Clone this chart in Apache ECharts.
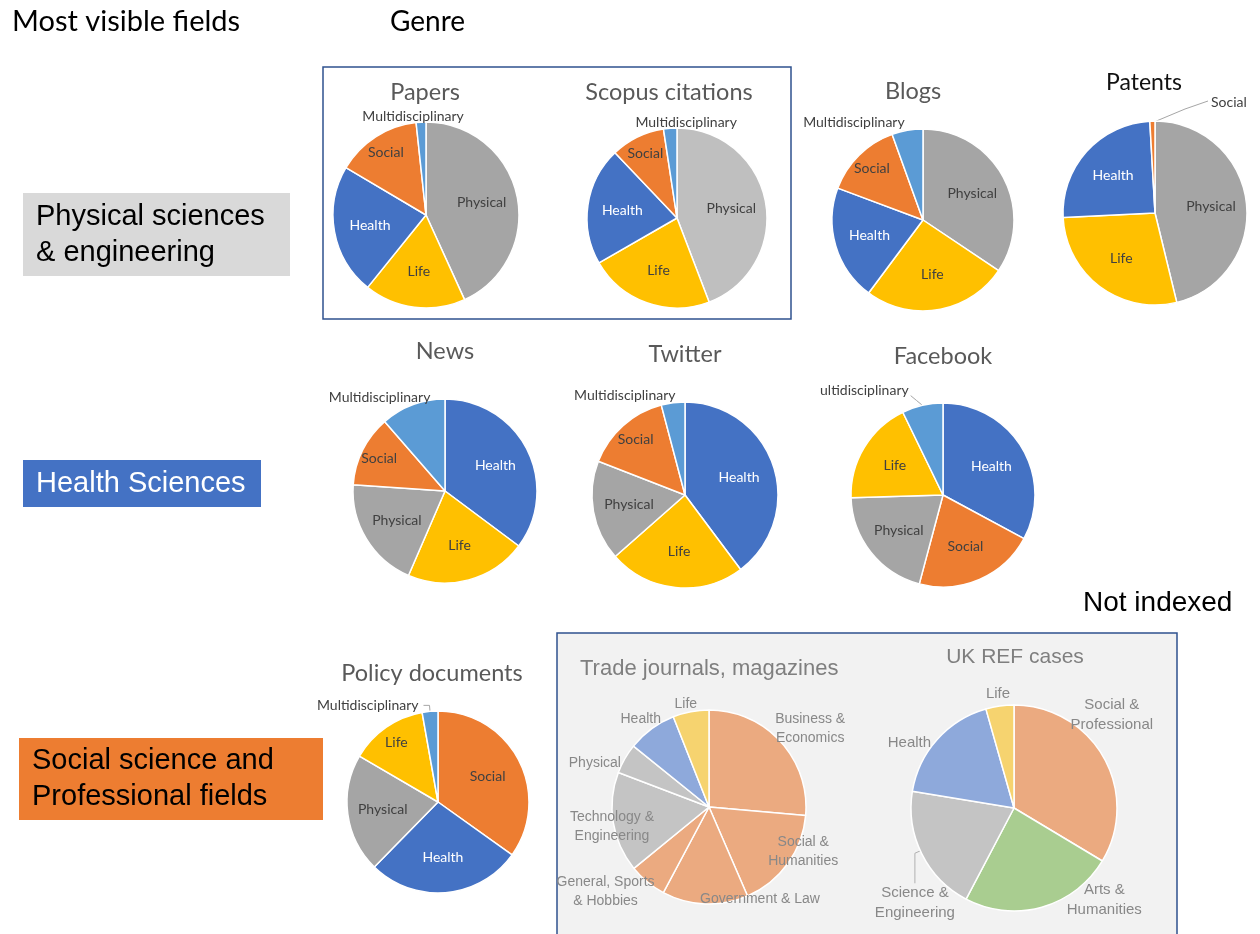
<!DOCTYPE html>
<html>
<head>
<meta charset="utf-8">
<title>Most visible fields by genre</title>
<script src="https://cdn.jsdelivr.net/npm/echarts@6/dist/echarts.min.js"></script>
<style>
html, body { margin: 0; padding: 0; background: #fff; }
#chart { width: 1260px; height: 934px; }
</style>
</head>
<body>
<div id="chart"></div>
<script>
// shares (%) per genre, clockwise from 12 o'clock
const papersNames = ['Physical', 'Life', 'Health', 'Social', 'Multidisciplinary']
const papersValues = [43.2, 17.6, 22.7, 14.8, 1.7]
const scopusNames = ['Physical', 'Life', 'Health', 'Social', 'Multidisciplinary']
const scopusValues = [44.2, 22.5, 21.2, 9.7, 2.4]
const blogsNames = ['Physical', 'Life', 'Health', 'Social', 'Multidisciplinary']
const blogsValues = [34.4, 25.8, 20.5, 13.8, 5.5]
const patentsNames = ['Physical', 'Life', 'Health', 'Social']
const patentsValues = [46.2, 28.0, 24.9, 0.9]
const newsNames = ['Health', 'Life', 'Physical', 'Social', 'Multidisciplinary']
const newsValues = [35.2, 21.3, 19.6, 12.5, 11.4]
const twitterNames = ['Health', 'Life', 'Physical', 'Social', 'Multidisciplinary']
const twitterValues = [39.8, 23.7, 17.4, 15.0, 4.1]
const facebookNames = ['Health', 'Social', 'Physical', 'Life', 'Multidisciplinary']
const facebookValues = [32.9, 21.3, 20.4, 18.3, 7.2]
const policyNames = ['Social', 'Health', 'Physical', 'Life', 'Multidisciplinary']
const policyValues = [34.9, 27.5, 21.1, 13.8, 2.8]
const tradeNames = ['Business &\nEconomics', 'Social &\nHumanities', 'Government & Law', 'General, Sports\n& Hobbies', 'Technology &\nEngineering', 'Physical', 'Health', 'Life']
const tradeValues = [26.4, 17.1, 14.3, 6.3, 16.7, 5.0, 8.2, 6.0]
const refNames = ['Social &\nProfessional', 'Arts &\nHumanities', 'Science &\nEngineering', 'Health', 'Life']
const refValues = [33.6, 24.1, 19.9, 18.0, 4.4]

const fieldColors = {
  Physical: '#A5A5A5',
  Life: '#FFC000',
  Health: '#4472C4',
  Social: '#ED7D31',
  Multidisciplinary: '#5B9BD5'
}
const tradeColors = ['#EBAA80', '#EBAA80', '#EBAA80', '#EBAA80', '#C4C4C4', '#C4C4C4', '#8EA9DB', '#F6D36F']
const refColors = ['#EBAA80', '#A9CD90', '#C4C4C4', '#8EA9DB', '#F6D36F']

// label nudges for the two faded pies (Excel "best fit" placement)
const tradeShift = [[10, 5], [-6, -28], [56, -31], [-25, -11], [25, 0], [-7, 18], [5, 12], [0, 19]]
const refShift = [[-16, -29], [55, -34], [18, 37], [-7, 22], [2, 15]]

const FONT = 'Lato, "Noto Sans", sans-serif'
const ARIAL = '"Liberation Sans", Arial, sans-serif'

const fieldPie = (names, values, cx, cy, r, opts = {}) => {
  const outside = opts.outside || ['Multidisciplinary']
  const colors = opts.colors || fieldColors
  const total = values.reduce((a, b) => a + b, 0)
  return {
    type: 'pie',
    center: [cx, cy],
    radius: r,
    startAngle: 90,
    clockwise: true,
    silent: true,
    avoidLabelOverlap: false,
    itemStyle: { borderColor: '#fff', borderWidth: 1.5 },
    label: {
      position: 'inside',
      fontFamily: FONT,
      fontSize: 14,
      color: '#404040',
      formatter: p => (opts.text && opts.text[p.name]) || p.name
    },
    labelLine: { show: false },
    labelLayout: p => {
      const n = names[p.dataIndex]
      const lr = p.labelRect
      const lx = lr.x + lr.width / 2
      const ly = lr.y + lr.height / 2
      if (outside.indexOf(n) < 0) {
        const k = values[p.dataIndex] / total >= 0.17 ? 1.15 : 1.5
        return { x: cx + (lx - cx) * k, y: cy + (ly - cy) * k, align: 'center', verticalAlign: 'middle' }
      }
      if (opts.outsideLayout) return opts.outsideLayout(p, lx, ly)
      if (opts.nudge) return { x: lx + opts.nudge[0], y: ly + opts.nudge[1], align: 'center', verticalAlign: 'middle' }
    },
    data: names.map((n, i) => ({
      name: n,
      value: values[i],
      itemStyle: { color: colors[n] },
      label: outside.indexOf(n) >= 0
        ? { position: 'outside', color: '#404040' }
        : { color: n === 'Health' ? '#fff' : '#404040' },
      labelLine: {
        show: outside.indexOf(n) >= 0 && !!opts.line,
        length: opts.line ? opts.line[0] : 4,
        length2: opts.line ? opts.line[1] : 0,
        lineStyle: { color: '#A6A6A6', width: 1 }
      }
    }))
  }
}

const genrePie = (names, values, colors, shift, cx, cy, r, size, leader) => ({
  type: 'pie',
  center: [cx, cy],
  radius: r,
  startAngle: 90,
  clockwise: true,
  silent: true,
  avoidLabelOverlap: false,
  itemStyle: { borderColor: '#fff', borderWidth: 1.5 },
  label: {
    position: 'inside',
    fontFamily: ARIAL,
    fontSize: size,
    lineHeight: size + 5,
    color: '#888888',
    align: 'center'
  },
  labelLine: { show: false },
  labelLayout: p => {
    const lr = p.labelRect
    const lx = lr.x + lr.width / 2
    const ly = lr.y + lr.height / 2
    const s = shift[p.dataIndex]
    const x = cx + (lx - cx) * 2.4 + s[0]
    const y = cy + (ly - cy) * 2.4 + s[1]
    const out = { x: x, y: y, align: 'center', verticalAlign: 'middle' }
    if (leader && leader.index === p.dataIndex) {
      const top = y - lr.height / 2
      out.labelLinePoints = [[x + leader.dx, top - 1], [x + leader.dx, top - leader.len / 2], [x + leader.dx, top - leader.len]]
    }
    return out
  },
  data: names.map((n, i) => ({
    name: n,
    value: values[i],
    itemStyle: { color: colors[i] },
    labelLine: { show: !!leader && leader.index === i, lineStyle: { color: '#B0B0B0', width: 1 } }
  }))
})

const txt = (x, y, text, size, color, family, align, extra) => ({
  type: 'text',
  x: x,
  y: y,
  z: 10,
  style: Object.assign({
    text: text,
    fill: color,
    fontSize: size,
    fontFamily: family,
    align: align || 'center',
    verticalAlign: 'middle',
    textAlign: align || 'center',
    textVerticalAlign: 'middle'
  }, extra || {})
})

const box = (x, y, w, h, fill, stroke) => ({
  type: 'rect',
  z: 0,
  shape: { x: x, y: y, width: w, height: h },
  style: { fill: fill, stroke: stroke || null, lineWidth: stroke ? 1.5 : 0 }
})

const chartInstance = echarts.init(document.getElementById('chart'))

const option = {
  backgroundColor: '#ffffff',
  animation: false,
  graphic: [
    box(323, 67, 468, 252, 'none', '#2F528F'),
    box(557, 633, 620, 320, '#F2F2F2', '#2F528F'),
    box(23, 193, 267, 83, '#D9D9D9'),
    box(23, 460, 238, 47, '#4472C4'),
    box(19, 738, 304, 82, '#ED7D31'),

    txt(12, 22, 'Most visible fields', 29, '#000', FONT, 'left'),
    txt(390, 22, 'Genre', 28, '#000', FONT, 'left'),
    txt(36, 235, 'Physical sciences\n& engineering', 29, '#000', ARIAL, 'left', { lineHeight: 36 }),
    txt(36, 484, 'Health Sciences', 29, '#fff', ARIAL, 'left'),
    txt(32, 779, 'Social science and\nProfessional fields', 29, '#000', ARIAL, 'left', { lineHeight: 36 }),
    txt(1083, 603, 'Not indexed', 28, '#000', ARIAL, 'left'),

    txt(425, 92, 'Papers', 23.5, '#595959', FONT),
    txt(669, 92, 'Scopus citations', 23.5, '#595959', FONT),
    txt(913, 91, 'Blogs', 23.5, '#595959', FONT),
    txt(1144, 83, 'Patents', 23, '#111', FONT),
    txt(445, 351, 'News', 23.5, '#595959', FONT),
    txt(685, 354, 'Twitter', 23.5, '#595959', FONT),
    txt(943, 356, 'Facebook', 23.5, '#595959', FONT),
    txt(432, 673, 'Policy documents', 23.5, '#595959', FONT),
    txt(580, 669, 'Trade journals, magazines', 22, '#7F7F7F', ARIAL, 'left'),
    txt(1015, 657, 'UK REF cases', 21, '#7F7F7F', ARIAL)
  ],
  series: [
    fieldPie(papersNames, papersValues, 426, 215, 93, {
      outsideLayout: (p, lx, ly) => ({ x: lx + 48, y: ly - 2, align: 'center', verticalAlign: 'middle' })
    }),
    fieldPie(scopusNames, scopusValues, 677, 218, 90, {
      colors: Object.assign({}, fieldColors, { Physical: '#BFBFBF' }),
      outsideLayout: (p, lx, ly) => ({ x: lx + 72, y: ly - 2, align: 'center', verticalAlign: 'middle' })
    }),
    fieldPie(blogsNames, blogsValues, 923, 220, 91, { nudge: [3, -4] }),
    fieldPie(patentsNames, patentsValues, 1155, 213, 92, {
      outside: ['Social'],
      line: [6, 6],
      outsideLayout: () => ({
        x: 1155 + 56,
        y: 213 - 92 - 19,
        align: 'left',
        verticalAlign: 'middle',
        labelLinePoints: [[1155 - 1, 213 - 92 + 1], [1155 + 30, 213 - 92 - 12], [1155 + 53, 213 - 92 - 20]]
      })
    }),
    fieldPie(newsNames, newsValues, 445, 491, 92, { nudge: [24, -4] }),
    fieldPie(twitterNames, twitterValues, 685, 495, 93, { nudge: [8, -3] }),
    fieldPie(facebookNames, facebookValues, 943, 495, 92, {
      line: [12, 2],
      text: { Multidisciplinary: 'ultidisciplinary' },
      outsideLayout: (p, lx, ly) => {
        const x = lx - 4
        const y = ly - 3
        const start = p.labelLinePoints[0]
        const end = [x + p.labelRect.width / 2 + 2, y + 5]
        return {
          x: x,
          y: y,
          align: 'center',
          verticalAlign: 'middle',
          labelLinePoints: [start, [(start[0] + end[0]) / 2, (start[1] + end[1]) / 2], end]
        }
      }
    }),
    fieldPie(policyNames, policyValues, 438, 802, 91, { line: [6, 6] }),
    genrePie(tradeNames, tradeValues, tradeColors, tradeShift, 709, 807, 97, 14),
    genrePie(refNames, refValues, refColors, refShift, 1014, 808, 103, 15, { index: 2, dx: 6, len: 27 })
  ]
}

chartInstance.setOption(option)
</script>
</body>
</html>
